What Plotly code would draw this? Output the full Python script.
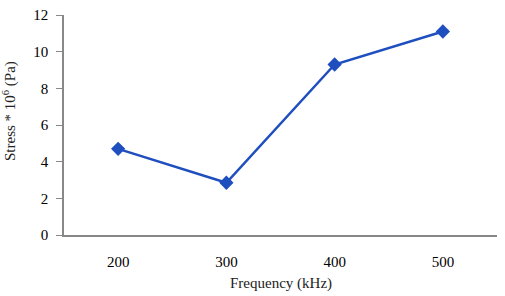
import plotly.graph_objects as go

categories = ["200", "300", "400", "500"]
stress = [4.7, 2.85, 9.3, 11.1]
y_ticks = [0, 2, 4, 6, 8, 10, 12]
x_title = "Frequency (kHz)"
y_title = "Stress * 10<sup>6</sup> (Pa)"

fig = go.Figure()
fig.add_trace(go.Scatter(
    x=categories, y=stress, mode="lines+markers",
    line=dict(color="#1f4fbf", width=2.5),
    marker=dict(symbol="diamond", size=11, color="#1f4fbf"),
    showlegend=False,
))
tf = dict(family="Liberation Serif", size=15, color="#000")
W, H, L, R, T, B = 505, 296, 64, 8, 15, 61
pw, ph = W - L - R, H - T - B
fig.update_layout(
    width=W, height=H,
    margin=dict(l=L, r=R, t=T, b=B),
    paper_bgcolor="white", plot_bgcolor="white",
    font=tf,
    xaxis=dict(type="category", range=[-0.5, 3.5], showline=True, linecolor="#888",
               linewidth=1.5, ticks="", showgrid=False, zeroline=False,
               tickfont=tf, ticklabelstandoff=12),
    yaxis=dict(range=[0, 12], tickvals=y_ticks, showline=True, linecolor="#888",
               linewidth=1.5, ticks="outside", ticklen=6, tickcolor="#888",
               showgrid=False, zeroline=False,
               tickfont=tf, ticklabelstandoff=5),
    annotations=[
        dict(text=x_title, xref="paper", yref="paper", x=0.5, y=-48 / ph,
             xanchor="center", yanchor="middle", showarrow=False,
             font=dict(family="Liberation Serif", size=15, color="#222")),
        dict(text=y_title, xref="paper", yref="paper", x=-55 / pw, y=124 / ph,
             xanchor="center", yanchor="middle", textangle=-90, showarrow=False,
             font=dict(family="Liberation Serif", size=15, color="#222")),
    ],
)
fig.write_html("out.html")
